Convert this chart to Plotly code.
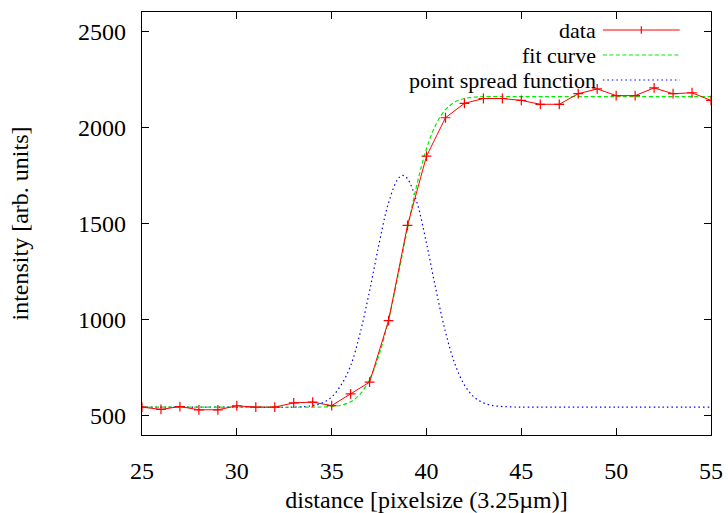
import plotly.graph_objects as go

# measured data (distance in pixels, intensity)
data_x = list(range(25, 56))
data_y = [545, 533, 548, 531, 531, 552, 545, 545, 567, 571, 553, 614, 675, 995, 1490,
          1850, 2050, 2125, 2150, 2150, 2140, 2120, 2120, 2175, 2200, 2165, 2165, 2205,
          2175, 2180, 2140]

# fit curve
fit_x = [25, 30, 34, 35, 35.5, 36, 36.5, 37, 37.5, 38, 38.5, 39, 39.5, 40, 40.5, 41,
         41.5, 42, 42.5, 43, 45, 50, 55]
fit_y = [545, 545, 545, 548, 555, 573, 613, 689, 817, 1000, 1230, 1475, 1705, 1889,
         2016, 2092, 2132, 2150, 2157, 2160, 2160, 2160, 2160]

# point spread function
psf_x = [25, 30, 33, 34, 34.5, 35, 35.5, 36, 36.5, 37, 37.5, 38, 38.5, 38.75, 39, 39.5,
         40, 40.5, 41, 41.5, 42, 42.5, 43, 43.5, 44, 44.5, 45, 50, 55]
psf_y = [545, 545, 545, 553, 567, 598, 660, 760, 930, 1150, 1395, 1608, 1733, 1750,
         1733, 1608, 1397, 1155, 936, 769, 660, 598, 567, 553, 548, 546, 545, 545, 545]

x_ticks = [25, 30, 35, 40, 45, 50, 55]
y_ticks = [500, 1000, 1500, 2000, 2500]

legend_names = ["data", "fit curve", "point spread function"]
colors = ["#ff0000", "#00ee00", "#0000ff"]

FONT = "Liberation Serif, Times New Roman, serif"
FS = 24
LEG_FS = 22

fig = go.Figure()
fig.add_trace(go.Scatter(x=psf_x, y=psf_y, mode="lines", line_shape="spline",
                         line=dict(color=colors[2], width=1.2, dash="1.5px,3px"),
                         showlegend=False))
fig.add_trace(go.Scatter(x=fit_x, y=fit_y, mode="lines", line_shape="spline",
                         line=dict(color=colors[1], width=1.2, dash="4px,2.5px"),
                         showlegend=False))
fig.add_trace(go.Scatter(x=data_x, y=data_y, mode="lines+markers",
                         line=dict(color=colors[0], width=1),
                         marker=dict(symbol="cross-thin", size=7,
                                     line=dict(color=colors[0], width=1.2)),
                         showlegend=False))

# gnuplot-style key: text right-aligned, sample to the right
row_y = [0.9574, 0.8983, 0.8392]
dashes = ["solid", "4px,2.5px", "1.5px,3px"]
x_text = 0.800
x0, x1 = 0.810, 0.945
for name, yy, col, d in zip(legend_names, row_y, colors, dashes):
    fig.add_annotation(x=x_text, y=yy, xref="paper", yref="paper", text=name,
                       showarrow=False, xanchor="right", yanchor="middle",
                       borderpad=0,
                       font=dict(family=FONT, size=LEG_FS, color="black"))
    fig.add_shape(type="line", xref="paper", yref="paper", x0=x0, x1=x1, y0=yy, y1=yy,
                  line=dict(color=col, width=1.2, dash=d))
# plus marker on the data sample
xm = (x0 + x1) / 2
fig.add_shape(type="line", xref="paper", yref="paper", x0=xm, x1=xm,
              y0=row_y[0] - 0.009, y1=row_y[0] + 0.009,
              line=dict(color=colors[0], width=1.2))

axis_common = dict(showline=True, linecolor="black", linewidth=1.2, mirror="ticks",
                   ticks="inside", ticklen=7, tickcolor="black", tickwidth=1.2,
                   showgrid=False, zeroline=False, automargin=False,
                   tickfont=dict(family=FONT, size=FS, color="black"))
fig.update_xaxes(range=[25, 55], tickvals=x_ticks,
                 title=dict(text="distance [pixelsize (3.25µm)]",
                            font=dict(family=FONT, size=FS, color="black"), standoff=8),
                 ticklabelstandoff=14, **axis_common)
fig.update_yaxes(range=[400, 2600], tickvals=y_ticks,
                 title=dict(text="intensity [arb. units]",
                            font=dict(family=FONT, size=FS, color="black"), standoff=42),
                 ticklabelstandoff=10, **axis_common)

fig.update_layout(width=728, height=513,
                  margin=dict(l=142, r=17, t=12, b=78),
                  plot_bgcolor="white", paper_bgcolor="white",
                  font=dict(family=FONT, size=FS, color="black"))

fig.write_html("out.html", config={"displayModeBar": False},
               post_script="document.body.style.margin='0px';"
                           "document.documentElement.style.overflow='hidden';")
